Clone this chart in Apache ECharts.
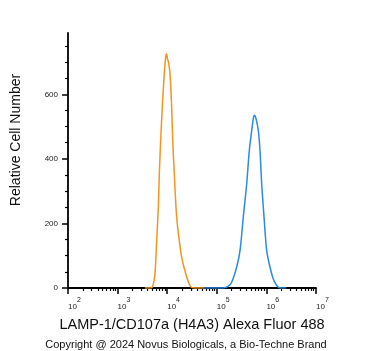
<!DOCTYPE html>
<html>
<head>
<meta charset="utf-8">
<script src="https://cdn.jsdelivr.net/npm/echarts@6/dist/echarts.min.js"></script>
<style>
  html, body { margin: 0; padding: 0; background: #fff; }
  #chart { width: 371px; height: 351px; }
</style>
</head>
<body>
<div id="chart"></div>
<script>
// x values are log10 of the fluorescence intensity
var isotypeX = [3.55, 3.673, 3.714, 3.754, 3.788, 3.821, 3.841, 3.869, 3.901, 3.942, 3.970, 3.986,
  4.006, 4.026, 4.056, 4.090, 4.111, 4.143, 4.177, 4.204, 4.244, 4.292, 4.373, 4.429, 4.480, 4.560, 4.75];
var isotypeY = [0, 0, 8, 45, 147, 250, 354, 458, 561, 665, 717, 726,
  710, 700, 665, 561, 458, 354, 250, 198, 147, 95, 45, 18, 3, 0, 0];

var lampX = [4.75, 5.131, 5.226, 5.300, 5.401, 5.468, 5.534, 5.603, 5.655, 5.704, 5.736, 5.756,
  5.790, 5.837, 5.871, 5.905, 5.952, 6.006, 6.073, 6.153, 6.274, 6.4];
var lampY = [0, 0, 5, 18, 65, 116, 220, 323, 426, 488, 525, 535,
  525, 488, 426, 323, 220, 116, 65, 23, 0, 0];

var xDecades = [2, 3, 4, 5, 6, 7];
var minorMultipliers = [2, 3, 4, 5, 6, 7, 8, 9];
var yTicks = [0, 200, 400, 600];
var yMinorTicks = [50, 100, 150, 250, 300, 350, 450, 500, 550, 650, 700, 750];

function pairs(xs, ys) {
  return xs.map(function (x, i) { return [x, ys[i]]; });
}

var xMinorTicks = [];
xDecades.slice(0, -1).forEach(function (d) {
  minorMultipliers.forEach(function (m) { xMinorTicks.push(d + Math.log10(m)); });
});

var chart = echarts.init(document.getElementById('chart'), null, { renderer: 'canvas' });

var gridPos = { left: 68, right: 55, top: 33, bottom: 63, containLabel: false, outerBoundsMode: 'none' };

chart.setOption({
  backgroundColor: '#ffffff',
  animation: false,
  grid: [gridPos, gridPos],
  xAxis: [{
    type: 'value',
    gridIndex: 0,
    min: 2,
    max: 7,
    name: 'LAMP-1/CD107a (H4A3) Alexa Fluor 488',
    nameLocation: 'middle',
    nameGap: 29,
    nameTextStyle: { fontFamily: 'Liberation Sans', fontSize: 14.5, color: '#111' },
    axisLine: { lineStyle: { color: '#000', width: 1.8 } },
    axisTick: { customValues: xDecades, length: 6, lineStyle: { color: '#000', width: 1.5 } },
    axisLabel: {
      customValues: xDecades,
      margin: 9,
      align: 'left',
      formatter: function (v) { return '{b|10}{s|' + v + '}'; },
      rich: {
        b: { fontFamily: 'Liberation Sans', fontSize: 8, color: '#222', lineHeight: 14, verticalAlign: 'bottom' },
        s: { fontFamily: 'Liberation Sans', fontSize: 7, color: '#222', lineHeight: 14, verticalAlign: 'top' }
      }
    },
    splitLine: { show: false }
  }, {
    type: 'value',
    gridIndex: 1,
    min: 2,
    max: 7,
    axisLine: { show: false },
    axisTick: { customValues: xMinorTicks, length: 3, lineStyle: { color: '#000', width: 1.2 } },
    axisLabel: { show: false },
    splitLine: { show: false }
  }],
  yAxis: [{
    type: 'value',
    gridIndex: 0,
    min: 0,
    max: 790,
    axisLine: { show: true, lineStyle: { color: '#000', width: 1.8 } },
    axisTick: { show: true, customValues: yTicks, length: 6, lineStyle: { color: '#000', width: 1.5 } },
    axisLabel: { customValues: yTicks, margin: 10, fontFamily: 'Liberation Sans', fontSize: 8, color: '#222' },
    splitLine: { show: false }
  }, {
    type: 'value',
    gridIndex: 1,
    min: 0,
    max: 790,
    axisLine: { show: false },
    axisTick: { show: true, customValues: yMinorTicks, length: 3, lineStyle: { color: '#000', width: 1.2 } },
    axisLabel: { show: false },
    splitLine: { show: false }
  }],
  graphic: [{
    type: 'text',
    x: 16,
    y: 140,
    rotation: Math.PI / 2,
    style: {
      text: 'Relative Cell Number',
      align: 'center',
      verticalAlign: 'middle',
      font: '14px "Liberation Sans"',
      fill: '#111'
    }
  }, {
    type: 'text',
    x: 186,
    y: 345,
    style: {
      text: 'Copyright @ 2024 Novus Biologicals, a Bio-Techne Brand',
      align: 'center',
      verticalAlign: 'middle',
      font: '11px "Liberation Sans"',
      fill: '#111'
    }
  }],
  series: [{
    type: 'line',
    xAxisIndex: 0,
    yAxisIndex: 0,
    data: pairs(isotypeX, isotypeY),
    showSymbol: false,
    smooth: 0.3,
    lineStyle: { color: '#f7931e', width: 1.5 },
    z: 3
  }, {
    type: 'line',
    xAxisIndex: 0,
    yAxisIndex: 0,
    data: pairs(lampX, lampY),
    showSymbol: false,
    smooth: 0.3,
    lineStyle: { color: '#2b8ae6', width: 1.5 },
    z: 3
  }]
});
</script>
</body>
</html>
